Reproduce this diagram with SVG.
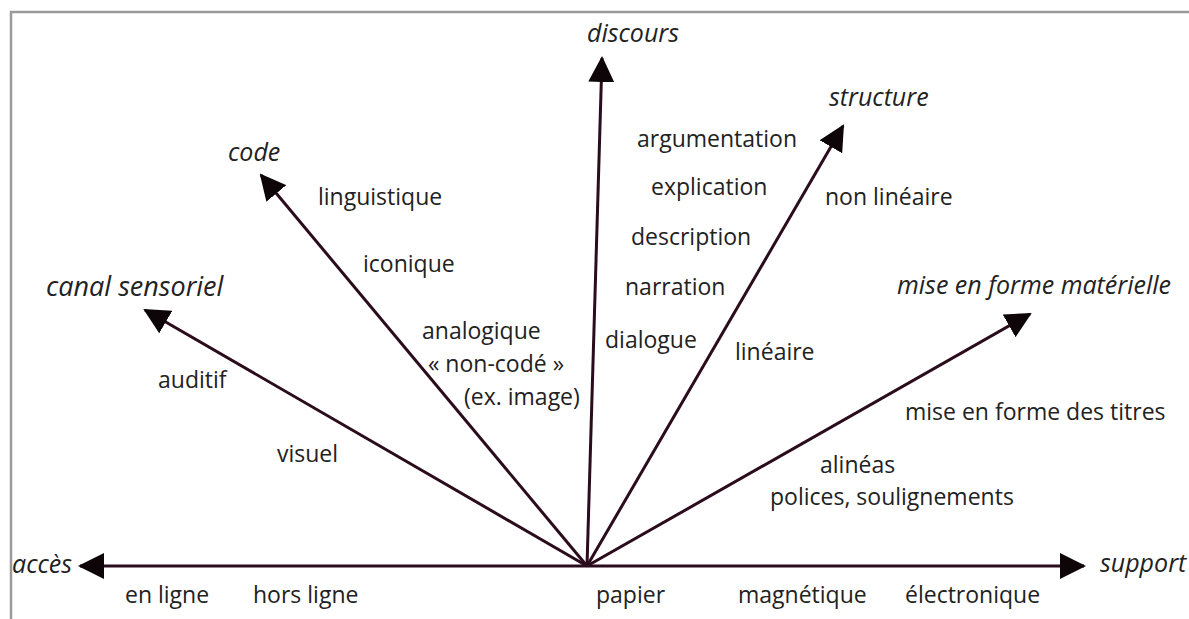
<svg xmlns="http://www.w3.org/2000/svg" width="1189" height="619" viewBox="0 0 1189 619">
<style>
.t{font-family:"Open Sans","Noto Sans",sans-serif;font-size:23px;fill:#222}
.i{font-style:italic;font-size:25px}
.ax{stroke:#2a0c1c;stroke-width:3;fill:none;marker-end:url(#ah)}
.fr{stroke:#9a9a9a;stroke-width:2.5;fill:none}
</style>
<defs>
<marker id="ah" markerUnits="userSpaceOnUse" markerWidth="26" markerHeight="26" viewBox="0 0 26 26" refX="24" refY="13" orient="auto">
<path d="M0,0 L26,13 L0,26 z" fill="#0d0508"/>
</marker>
</defs>
<rect width="1189" height="619" fill="#fff"/>
<path class="fr" d="M11,619 L11,12 L1189,12"/>
<g id="connectors">
<line class="ax" x1="587" y1="566" x2="80" y2="566"/>
<line class="ax" x1="587" y1="566" x2="1084" y2="566"/>
<line class="ax" x1="587" y1="566" x2="602" y2="58"/>
<line class="ax" x1="587" y1="566" x2="843" y2="126"/>
<line class="ax" x1="587" y1="566" x2="261" y2="175"/>
<line class="ax" x1="587" y1="566" x2="145" y2="310"/>
<line class="ax" x1="587" y1="566" x2="1030" y2="314"/>
</g>
<g id="acces"><text class="t i" x="12" y="573">accès</text>
<text class="t" x="125" y="603">en ligne</text>
<text class="t" x="253" y="603">hors ligne</text></g>
<g id="support"><text class="t i" x="1100" y="572">support</text>
<text class="t" x="596" y="603">papier</text>
<text class="t" x="738" y="603">magnétique</text>
<text class="t" x="905" y="603">électronique</text></g>
<g id="discours"><text class="t i" x="587" y="42">discours</text>
<text class="t" x="637" y="147">argumentation</text>
<text class="t" x="651" y="195">explication</text>
<text class="t" x="631" y="245">description</text>
<text class="t" x="625" y="295">narration</text>
<text class="t" x="605" y="348">dialogue</text></g>
<g id="structure"><text class="t i" x="829" y="106">structure</text>
<text class="t" x="825" y="205">non linéaire</text>
<text class="t" x="735" y="360">linéaire</text></g>
<g id="code"><text class="t i" x="228" y="161">code</text>
<text class="t" x="318" y="205">linguistique</text>
<text class="t" x="363" y="272">iconique</text>
<text class="t" x="422" y="339">analogique</text>
<text class="t" x="428" y="372">« non-codé »</text>
<text class="t" x="464" y="405">(ex. image)</text></g>
<g id="canal"><text class="t i" x="46" y="296" style="font-size:27px">canal sensoriel</text>
<text class="t" x="158" y="388">auditif</text>
<text class="t" x="277" y="462">visuel</text></g>
<g id="mise"><text class="t i" x="897" y="294">mise en forme matérielle</text>
<text class="t" x="905" y="420">mise en forme des titres</text>
<text class="t" x="820" y="473">alinéas</text>
<text class="t" x="770" y="505">polices, soulignements</text></g>
</svg>
